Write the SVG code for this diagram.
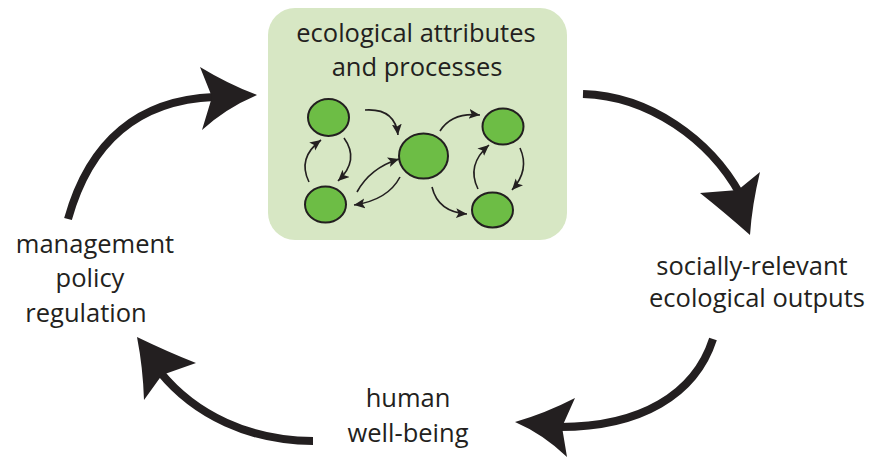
<svg xmlns="http://www.w3.org/2000/svg" width="884" height="460" viewBox="0 0 884 460">
<defs>
<style>
.lbl{font-family:"Open Sans","Liberation Sans",sans-serif;font-size:25.5px;fill:#231f20;text-anchor:middle}
.big{fill:none;stroke:#231f20;stroke-width:8}
.head{fill:#231f20}
.sm{fill:none;stroke:#231f20;stroke-width:1.6;marker-end:url(#ah)}
.node{fill:#6dbd45;stroke:#231f20;stroke-width:2}
</style>
<marker id="ah" markerUnits="userSpaceOnUse" markerWidth="12" markerHeight="11" refX="11" refY="5" orient="auto" viewBox="0 0 12 11">
<path d="M0,0 L11,5 L0,10 L2.5,5 Z" fill="#231f20"/>
</marker>
</defs>
<rect width="884" height="460" fill="#ffffff"/>
<g id="ecological">
<rect x="268" y="8" width="299" height="232" rx="27" ry="27" fill="#d7e7c4"/>
<text class="lbl" x="416" y="42">ecological attributes</text>
<text class="lbl" x="417" y="76">and processes</text>
<ellipse id="n1" class="node" cx="328.5" cy="117.5" rx="20.5" ry="18.5"/>
<ellipse id="n2" class="node" cx="325.5" cy="204.5" rx="20.5" ry="18"/>
<ellipse id="n3" class="node" cx="423.5" cy="156" rx="24.5" ry="22.5"/>
<ellipse id="n4" class="node" cx="503" cy="126.5" rx="20.5" ry="18"/>
<ellipse id="n5" class="node" cx="492.5" cy="210" rx="20.5" ry="17.5"/>
<g id="inner-links">
<path class="sm" d="M365,110 Q395,108 398,135"/>
<path class="sm" d="M344,138 Q360,160 338,181"/>
<path class="sm" d="M309,182 Q297,158 321,140"/>
<path class="sm" d="M357,192 Q370,168 399,159"/>
<path class="sm" d="M400,177 Q388,200 354,205"/>
<path class="sm" d="M440,131 Q452,112 480,115"/>
<path class="sm" d="M432,187 Q438,212 467,214"/>
<path class="sm" d="M520,148 Q530,170 512,190"/>
<path class="sm" d="M478,189 Q466,165 489,145"/>
</g>
</g>
<g id="outputs">
<text class="lbl" x="752" y="275">socially-relevant</text>
<text class="lbl" x="757" y="307">ecological outputs</text>
</g>
<g id="wellbeing">
<text class="lbl" x="408" y="407">human</text>
<text class="lbl" x="408" y="442">well-being</text>
</g>
<g id="management">
<text class="lbl" x="95" y="253">management</text>
<text class="lbl" x="90" y="287">policy</text>
<text class="lbl" x="86" y="322">regulation</text>
</g>
<g id="connectors">
<path class="big" d="M68,219 C90,140 140,100 214,97"/>
<path class="head" d="M257,95 Q228,84 200,67 L212,97 L202,130 Q226,108 257,95 Z"/>
<path class="big" d="M583,94 C650,96 710,140 740,194"/>
<path class="head" d="M750,235 Q724,212 700,193 L738,190 L760,172 Q752,205 750,235 Z"/>
<path class="big" d="M713,339 C695,395 640,427 560,427"/>
<path class="head" d="M515,422 Q546,413 575,398 L562,427 L567,457 Q543,434 515,422 Z"/>
<path class="big" d="M313,441 C250,441 195,415 160,372"/>
<path class="head" d="M137,337 Q168,352 196,363 L162,375 L144,400 Q143,368 137,337 Z"/>
</g>
</svg>
